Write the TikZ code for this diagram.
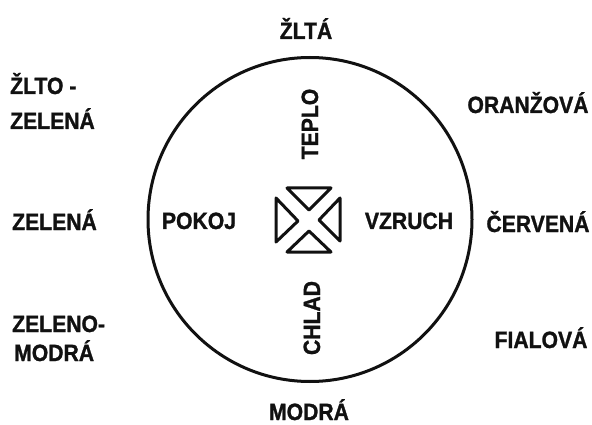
\documentclass[tikz,border=0pt]{standalone}
\usepackage{fontspec}
\newfontfamily\lblfont{Liberation Sans}[FakeStretch=0.9,FakeBold=1.2]
\usetikzlibrary{positioning}
\definecolor{cink}{HTML}{111111}
\definecolor{cpaper}{HTML}{FFFFFF}

\begin{document}
\begin{tikzpicture}[x=1pt,y=-1pt,
  lbl/.style={font=\lblfont\bfseries\fontsize{23.5}{30}\selectfont, text=cink, inner sep=0},
  wheel/.style={draw=cink, circle, line width=3pt, inner sep=0, minimum size=324pt},
  tri/.style={draw=cink, line width=3pt, line join=round, line cap=round}]

\useasboundingbox[fill=cpaper] (0,0) rectangle (592,425);

\node[wheel] (wheel) at (310,219.5) {};

% colours round the wheel
\node[lbl, anchor=base] (zlta) at (306,39) {ŽLTÁ};
\node[lbl, anchor=base] (oranzova) at (528,113) {ORANŽOVÁ};
\node[lbl, anchor=base] (cervena) at (538,232) {ČERVENÁ};
\node[lbl, anchor=base] (fialova) at (541,348) {FIALOVÁ};
\node[lbl, anchor=base] (modra) at (309,420) {MODRÁ};
\node[lbl, anchor=base west] (zltozel1) at (10,94) {ŽLTO -};
\node[lbl, anchor=base west] (zltozel2) at (10,129) {ZELENÁ};
\node[lbl, anchor=base west] (zelena) at (12,230) {ZELENÁ};
\node[lbl, anchor=base west] (zelmod1) at (12,332) {ZELENO-};
\node[lbl, anchor=base west] (zelmod2) at (14,361) {MODRÁ};

% inside the wheel
\node[lbl, anchor=base] (pokoj) at (199,229) {POKOJ};
\node[lbl, anchor=base] (vzruch) at (409,229) {VZRUCH};
\node[lbl, anchor=base, rotate=90] (teplo) at (318,124) {TEPLO};
\node[lbl, anchor=base, rotate=90] (chlad) at (320,318) {CHLAD};

% centre sign
\coordinate (hub) at (308,220);
\draw[tri] (287,188) -- (331,188) -- (309,210) -- cycle;
\draw[tri] (287,252) -- (331,252) -- (309,231) -- cycle;
\draw[tri] (276,198) -- (276,242) -- (298,221) -- cycle;
\draw[tri] (340,198) -- (340,241) -- (319,220) -- cycle;
\end{tikzpicture}
\end{document}
